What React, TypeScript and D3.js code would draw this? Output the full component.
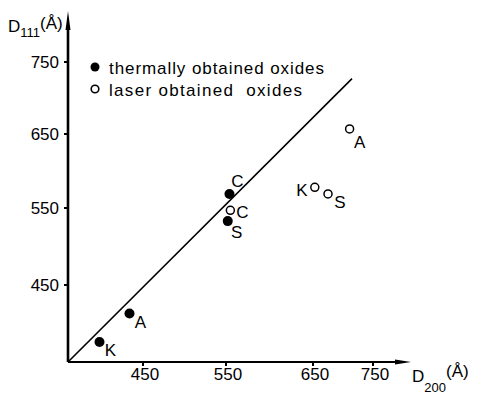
import React from 'react';
import * as d3 from 'd3';

// D200 / D111 crystallite sizes (Å)
const ticks = [450, 550, 650, 750];
const thermalNames = ['K', 'A', 'C', 'S'];
const thermalD200 = [392, 432, 554, 552];
const thermalD111 = [376, 413, 569, 533];
const laserNames = ['C', 'K', 'S', 'A'];
const laserD200 = [555, 653, 675, 711];
const laserD111 = [547, 578, 569, 657];
const lineD200 = [350, 715];
const lineD111 = [350, 727];
const legendLabels = ['thermally obtained oxides', 'laser obtained  oxides'];

// label placement relative to its point (hand lettered in the original)
const thermalLabelOffset = [[11, 8], [11, 9], [8, -13], [9, 11]];
const laserLabelOffset = [[12, 2], [-13, 3], [12, 8], [10, 13]];

const W = 477, H = 402;
const font = '"Liberation Sans", Arial, sans-serif';

export default function App() {
  // the original axes are hand ruled, so the tick spacing is uneven
  const x = d3.scaleLinear().domain([350, ...ticks]).range([68, 143, 226, 313, 373]);
  const y = d3.scaleLinear().domain([350, ...ticks]).range([362, 285, 208, 134, 62]);
  const x0 = x(350), y0 = y(350);

  const line = d3.line<number>()
    .x(i => x(lineD200[i]))
    .y(i => y(lineD111[i]));

  return (
    <svg width={W} height={H} style={{ position: 'absolute', left: 0, top: 0, background: '#fff' }}
      fontFamily={font} fill="#000">
      {/* axes */}
      <line x1={x0} y1={y0} x2={x0} y2={26} stroke="#000" strokeWidth={2.6} />
      <path d={`M${x0 - 2.5},30 L${x0},11 L${x0 + 2.5},30 Z`} fill="#000" />
      <line x1={x0} y1={y0} x2={397} y2={y0} stroke="#000" strokeWidth={2} />
      <path d={`M395,${y0 - 2.5} L411,${y0} L395,${y0 + 2.5} Z`} fill="#000" />

      {ticks.map(t => (
        <g key={'y' + t}>
          <line x1={x0 - 4} x2={x0} y1={y(t)} y2={y(t)} stroke="#000" strokeWidth={2} />
          <text x={59} y={y(t)} dy="0.35em" textAnchor="end" fontSize={17}>{t}</text>
        </g>
      ))}
      {ticks.map(t => (
        <g key={'x' + t}>
          <line x1={x(t)} x2={x(t)} y1={y0} y2={y0 + 4} stroke="#000" strokeWidth={2} />
          <text x={x(t) + 2} y={380} textAnchor="middle" fontSize={17}>{t}</text>
        </g>
      ))}

      {/* axis titles */}
      <text x={8} y={32} fontSize={17}>D<tspan fontSize={13} dy={5}>111</tspan><tspan dy={-8}>(Å)</tspan></text>
      <text x={412} y={382} fontSize={17}>D<tspan fontSize={13} dy={10}>200</tspan><tspan dy={-15}>(Å)</tspan></text>

      {/* legend */}
      <circle cx={95} cy={67} r={4.5} fill="#000" />
      <text x={109} y={74} fontSize={17} textLength={215} lengthAdjust="spacing">{legendLabels[0]}</text>
      <circle cx={95} cy={89} r={3.8} fill="none" stroke="#000" strokeWidth={1.6} />
      <text x={109} y={96} fontSize={17} textLength={193} lengthAdjust="spacing"
        style={{ whiteSpace: 'pre' }}>{legendLabels[1]}</text>

      {/* D111 = D200 */}
      <path d={line([0, 1]) ?? ''} fill="none" stroke="#000" strokeWidth={1.6} />

      {thermalNames.map((n, i) => (
        <g key={'t' + i}>
          <circle cx={x(thermalD200[i])} cy={y(thermalD111[i])} r={5} fill="#000" />
          <text x={x(thermalD200[i]) + thermalLabelOffset[i][0]} y={y(thermalD111[i]) + thermalLabelOffset[i][1]}
            dy="0.35em" textAnchor="middle" fontSize={17}>{n}</text>
        </g>
      ))}
      {laserNames.map((n, i) => (
        <g key={'l' + i}>
          <circle cx={x(laserD200[i])} cy={y(laserD111[i])} r={4} fill="#fff" stroke="#000" strokeWidth={1.5} />
          <text x={x(laserD200[i]) + laserLabelOffset[i][0]} y={y(laserD111[i]) + laserLabelOffset[i][1]}
            dy="0.35em" textAnchor="middle" fontSize={17}>{n}</text>
        </g>
      ))}
    </svg>
  );
}
